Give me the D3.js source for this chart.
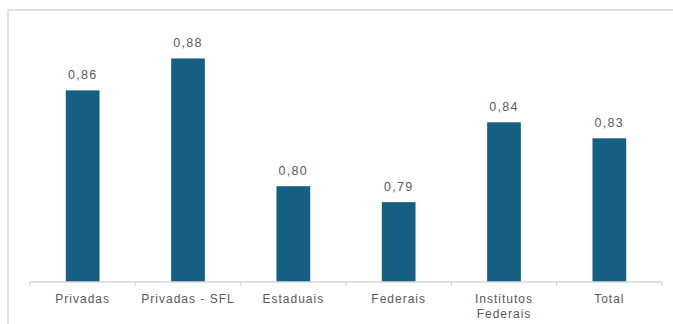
<!DOCTYPE html>
<html>
<head>
<meta charset="utf-8">
<script src="https://cdn.jsdelivr.net/npm/d3@7"></script>
<style>
  html, body { margin: 0; padding: 0; background: #ffffff; }
  svg { display: block; }
</style>
</head>
<body>
<div id="chart"></div>
<script>
const categories = ["Privadas", "Privadas - SFL", "Estaduais", "Federais", "Institutos Federais", "Total"];
const categoryLines = [["Privadas"], ["Privadas - SFL"], ["Estaduais"], ["Federais"], ["Institutos", "Federais"], ["Total"]];
const values = [0.86, 0.88, 0.80, 0.79, 0.84, 0.83];
const valueLabels = ["0,86", "0,88", "0,80", "0,79", "0,84", "0,83"];
const yDomain = [0.74, 0.90];

const W = 673, H = 324;
const svg = d3.select("#chart").append("svg").attr("width", W).attr("height", H);

// chart frame
svg.append("rect")
  .attr("x", 8).attr("y", 10).attr("width", W + 10).attr("height", H + 10)
  .attr("fill", "none").attr("stroke", "#d9d9d9").attr("stroke-width", 1.5);

const x = d3.scaleBand().domain(categories).range([30, 662]).padding(0);
const y = d3.scaleLinear().domain(yDomain).range([282, 26.5]);

const barW = x.bandwidth() * 0.32;

svg.append("g").selectAll("rect").data(values).join("rect")
  .attr("x", (d, i) => x(categories[i]) + x.bandwidth() / 2 - barW / 2)
  .attr("width", barW)
  .attr("y", d => y(d))
  .attr("height", d => y(yDomain[0]) - y(d))
  .attr("fill", "#156082");

// value labels
svg.append("g").selectAll("text").data(values).join("text")
  .attr("x", (d, i) => x(categories[i]) + x.bandwidth() / 2)
  .attr("y", d => y(d) - 11)
  .attr("text-anchor", "middle")
  .attr("font-family", "Liberation Sans, Arial, sans-serif")
  .attr("font-size", 12.5)
  .attr("letter-spacing", 1.3)
  .attr("fill", "#595959")
  .text((d, i) => valueLabels[i]);

// x axis
const axis = svg.append("g").attr("transform", `translate(0,${y(yDomain[0])})`);
axis.append("line").attr("x1", 30).attr("x2", 662).attr("y1", 0).attr("y2", 0)
  .attr("stroke", "#d9d9d9").attr("stroke-width", 1.3);
const tickPos = categories.map(c => x(c)).concat([x(categories[categories.length - 1]) + x.step()]);
axis.selectAll("line.tick").data(tickPos).join("line").attr("class", "tick")
  .attr("x1", d => d).attr("x2", d => d).attr("y1", 0).attr("y2", 4)
  .attr("stroke", "#d9d9d9").attr("stroke-width", 1.3);

const labels = axis.selectAll("text.cat").data(categories).join("text").attr("class", "cat")
  .attr("x", d => x(d) + x.bandwidth() / 2)
  .attr("y", 21)
  .attr("text-anchor", "middle")
  .attr("font-family", "Liberation Sans, Arial, sans-serif")
  .attr("font-size", 12)
  .attr("letter-spacing", 1)
  .attr("fill", "#595959");
labels.each(function(d, i) {
  const t = d3.select(this);
  categoryLines[i].forEach((ln, j) => {
    t.append("tspan").attr("x", x(d) + x.bandwidth() / 2).attr("dy", j === 0 ? 0 : 15).text(ln);
  });
});
</script>
</body>
</html>
